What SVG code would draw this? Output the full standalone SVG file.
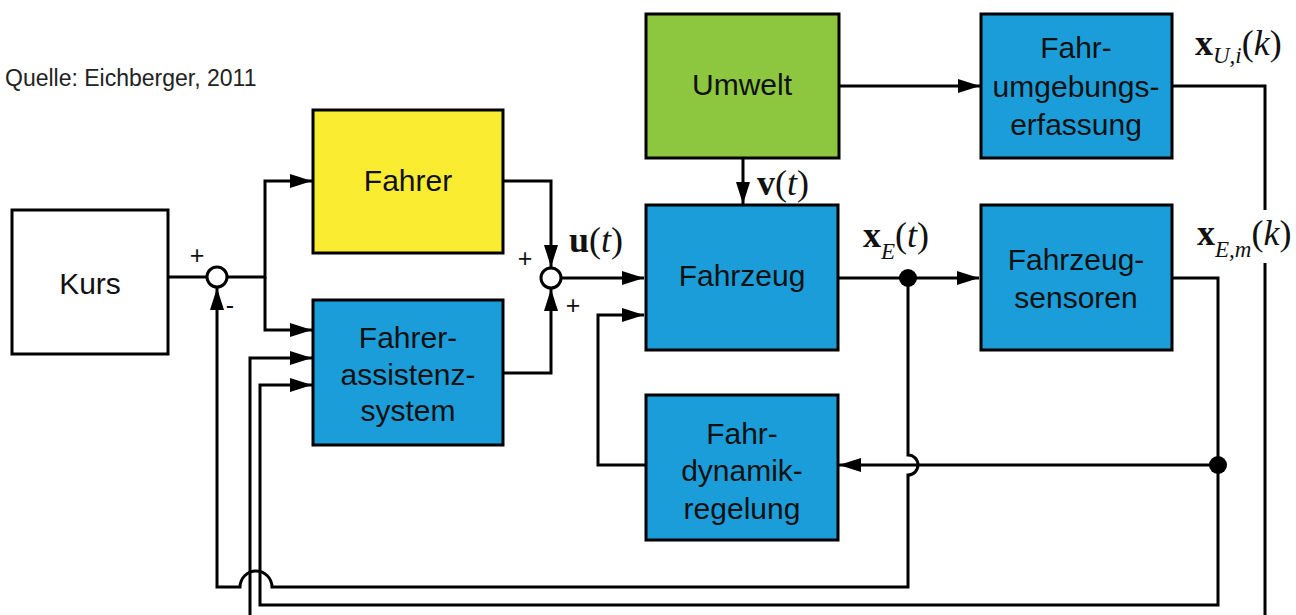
<svg xmlns="http://www.w3.org/2000/svg" width="1296" height="615" viewBox="0 0 1296 615">
<defs>
<marker id="arr" viewBox="0 0 22 14" refX="22" refY="7" markerWidth="22" markerHeight="14" markerUnits="userSpaceOnUse" orient="auto">
<path d="M0,0 L22,7 L0,14 z" fill="#000"/>
</marker>
</defs>
<style>
.box{stroke:#000;stroke-width:3}
.white{fill:#fff}
.yellow{fill:#F9EC31}
.green{fill:#8DC63F}
.blue{fill:#1B9DD9}
.lbl{font-family:"Liberation Sans",Arial,sans-serif;font-size:30px;fill:#111;text-anchor:middle}
.sign{font-family:"Liberation Sans",Arial,sans-serif;font-size:25px;fill:#111;text-anchor:middle}
.math{font-family:"Liberation Serif","Times New Roman",serif;font-size:36px;fill:#111}
.sub{font-size:23px;font-style:italic}
.con{fill:none;stroke:#000;stroke-width:3}
.src{font-family:"Liberation Sans",Arial,sans-serif;font-size:23px;fill:#222}
</style>
<rect width="1296" height="615" fill="#fff"/>
<text class="src" x="5" y="86">Quelle: Eichberger, 2011</text>

<g id="connectors">
<path class="con" d="M168,277 H207"/>
<path class="con" d="M227,277 H265 V181 H312" marker-end="url(#arr)"/>
<path class="con" d="M265,277 V330 H312" marker-end="url(#arr)"/>
<path class="con" d="M503,181 H551 V267" marker-end="url(#arr)"/>
<path class="con" d="M503,373 H551 V289" marker-end="url(#arr)"/>
<path class="con" d="M561,278 H644" marker-end="url(#arr)"/>
<path class="con" d="M743,158 V204" marker-end="url(#arr)"/>
<path class="con" d="M839,86 H980" marker-end="url(#arr)"/>
<path class="con" d="M838,278 H979" marker-end="url(#arr)"/>
<path class="con" d="M908,278 V455 A10,10 0 0 1 908,475 V587 H272 A16,16 0 0 0 240,587 H217 V288" marker-end="url(#arr)"/>
<path class="con" d="M1172,278 H1218 V605 H260 V385 H312" marker-end="url(#arr)"/>
<path class="con" d="M1218,465 H839" marker-end="url(#arr)"/>
<path class="con" d="M645,465 H598 V315 H644" marker-end="url(#arr)"/>
<path class="con" d="M1172,86 H1265 V615"/>
<path class="con" d="M250,615 V358 H312" marker-end="url(#arr)"/>
<circle cx="217" cy="277" r="10" fill="#fff" stroke="#000" stroke-width="3"/>
<circle cx="551" cy="278" r="10" fill="#fff" stroke="#000" stroke-width="3"/>
<circle cx="908" cy="278" r="9" fill="#000"/>
<circle cx="1218" cy="465" r="9" fill="#000"/>
<text class="sign" x="197" y="264">+</text>
<text class="sign" x="230" y="314">-</text>
<text class="sign" x="525" y="267">+</text>
<text class="sign" x="573" y="314">+</text>
</g>

<g id="kurs"><rect class="box white" x="12" y="210" width="156" height="144"/><text class="lbl" x="90" y="294">Kurs</text></g>
<g id="fahrer"><rect class="box yellow" x="313" y="110" width="190" height="143"/><text class="lbl" x="408" y="191">Fahrer</text></g>
<g id="fahrerassistenzsystem"><rect class="box blue" x="313" y="300" width="190" height="145"/><text class="lbl" x="408" y="348">Fahrer-</text><text class="lbl" x="408" y="385">assistenz-</text><text class="lbl" x="408" y="421">system</text></g>
<g id="umwelt"><rect class="box green" x="646" y="14" width="193" height="144"/><text class="lbl" x="742" y="95">Umwelt</text></g>
<g id="fahrzeug"><rect class="box blue" x="646" y="205" width="192" height="145"/><text class="lbl" x="742" y="286">Fahrzeug</text></g>
<g id="fahrumgebungserfassung"><rect class="box blue" x="981" y="14" width="191" height="144"/><text class="lbl" x="1076" y="58">Fahr-</text><text class="lbl" x="1076" y="97">umgebungs-</text><text class="lbl" x="1076" y="135">erfassung</text></g>
<g id="fahrzeugsensoren"><rect class="box blue" x="981" y="205" width="191" height="145"/><text class="lbl" x="1076" y="270">Fahrzeug-</text><text class="lbl" x="1076" y="308">sensoren</text></g>
<g id="fahrdynamikregelung"><rect class="box blue" x="646" y="395" width="192" height="145"/><text class="lbl" x="742" y="444">Fahr-</text><text class="lbl" x="742" y="481">dynamik-</text><text class="lbl" x="742" y="519">regelung</text></g>

<g id="labels">
<text class="math" x="569" y="252"><tspan font-weight="bold">u</tspan>(<tspan font-style="italic">t</tspan>)</text>
<text class="math" x="757" y="195"><tspan font-weight="bold">v</tspan>(<tspan font-style="italic">t</tspan>)</text>
<text class="math" x="863" y="247"><tspan font-weight="bold">x</tspan><tspan class="sub" dy="12">E</tspan><tspan dy="-12">(</tspan><tspan font-style="italic">t</tspan>)</text>
<text class="math" x="1195" y="55"><tspan font-weight="bold">x</tspan><tspan class="sub" dy="8">U,i</tspan><tspan dy="-8">(</tspan><tspan font-style="italic">k</tspan>)</text>
<rect x="1255" y="210" width="20" height="53" fill="#fff"/>
<text class="math" x="1197" y="245"><tspan font-weight="bold">x</tspan><tspan class="sub" dy="12">E,m</tspan><tspan dy="-12">(</tspan><tspan font-style="italic">k</tspan>)</text>
</g>
</svg>
